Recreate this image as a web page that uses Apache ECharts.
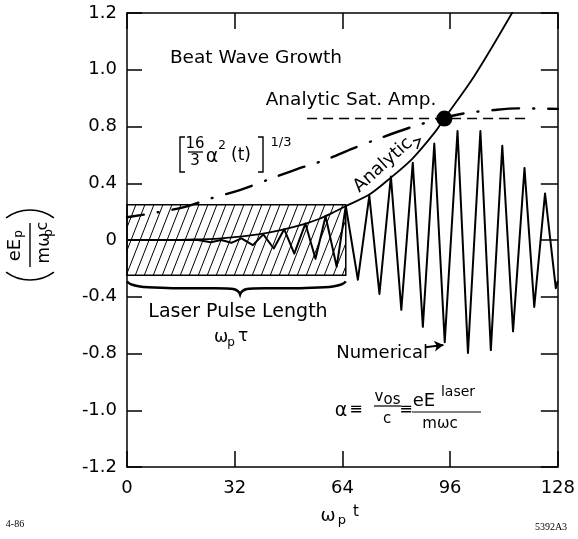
<!DOCTYPE html>
<html>
<head>
<meta charset="utf-8">
<script src="https://cdn.jsdelivr.net/npm/echarts@6/dist/echarts.min.js"></script>
<style>
  html, body { margin: 0; padding: 0; background: #fff; }
  #chart { width: 578px; height: 539px; }
</style>
</head>
<body>
<div id="chart"></div>
<script>
// The figure's y ticks are evenly spaced but labelled unevenly,
// so y values below are in tick steps (-4 .. 4) and labels are mapped.
const yTickLabels = ['-1.2', '-1.0', '-0.8', '-0.4', '0', '0.4', '0.8', '1.0', '1.2'];
const xTicks = [0, 32, 64, 96, 128];

// solid analytic growth curve
const analytic = [
  [0, 0], [12, 0], [20, 0.01], [26, 0.02], [32, 0.05], [39, 0.1], [46, 0.18],
  [52.6, 0.28], [57, 0.37], [60.4, 0.46], [65.1, 0.6], [72, 0.8], [78.4, 1.1],
  [84.9, 1.44], [91.5, 1.9], [94.3, 2.14], [103.2, 2.89], [114.4, 4.0], [116, 4.2]
];

// numerical result (peaks and troughs)
const numerical = [
  [0, 0], [21, 0], [24.9, -0.04], [28, 0.0], [31, -0.05], [34, 0.03], [37.4, -0.09],
  [40.5, 0.1], [43.6, -0.15], [46.7, 0.19], [49.7, -0.24], [53, 0.29], [56, -0.33],
  [59, 0.42], [62.3, -0.47], [65, 0.6], [68.6, -0.7], [72, 0.78], [75, -0.95],
  [78.4, 1.12], [81.5, -1.23], [84.9, 1.36], [87.9, -1.53], [91.3, 1.7], [94.4, -1.8],
  [98.2, 1.92], [101.3, -1.99], [105, 1.92], [108.1, -1.94], [111.5, 1.66],
  [114.7, -1.61], [118.1, 1.27], [121, -1.18], [124.2, 0.82], [127.4, -0.85], [128, -0.72]
];

// [16/3 a^2(t)]^(1/3) dash-dot curve
const cubeRoot = [
  [0, 0.4], [9.3, 0.49], [17, 0.58], [25.3, 0.74], [33.5, 0.88], [41.8, 1.06],
  [50.5, 1.25], [58.9, 1.41], [67, 1.61], [75.4, 1.8], [84, 1.98], [92, 2.12],
  [100, 2.23], [109, 2.29], [116, 2.32], [128, 2.31]
];

// analytic saturation amplitude
const satAmp = 2.14;
const satSpan = [53.5, 118.7];
const satPoint = [[94.3, 2.14]];

// laser pulse box and brace
const pulseBox = [[0, -0.62], [65, 0.62]];
const braceSpan = [0, 65];
const braceTip = 33.6;
const braceLevels = [-0.73, -0.85, -0.96];

// arrow from "Numerical" label
const numArrow = [[88.6, -1.89], [94, -1.85]];

const FONT = 'DejaVu Sans';

// diagonal hatching tile
const hatch = document.createElement('canvas');
hatch.width = 9;
hatch.height = 23;
(function () {
  const ctx = hatch.getContext('2d');
  ctx.strokeStyle = '#000';
  ctx.lineWidth = 1;
  ctx.beginPath();
  for (const dx of [-9, 0, 9]) {
    for (const dy of [-23, 0, 23]) {
      ctx.moveTo(dx, 23 + dy);
      ctx.lineTo(9 + dx, dy);
    }
  }
  ctx.stroke();
})();

function txt(x, y, s, size, style) {
  return {
    type: 'text', x: x, y: y, silent: true,
    style: Object.assign({
      text: s, fontSize: size, fontFamily: FONT, fill: '#000',
      align: 'center', verticalAlign: 'middle',
      textAlign: 'center', textVerticalAlign: 'middle'
    }, style || {})
  };
}
function seg(x1, y1, x2, y2, w) {
  return { type: 'line', silent: true, shape: { x1, y1, x2, y2 }, style: { stroke: '#000', lineWidth: w || 1.3 } };
}
function poly(points, w) {
  return { type: 'polyline', silent: true, shape: { points }, style: { stroke: '#000', fill: 'none', lineWidth: w || 1.3 } };
}

const chart = echarts.init(document.getElementById('chart'));

const tickStyle = { show: true, inside: true, length: 16, lineStyle: { color: '#000', width: 1.5 } };
const lineAxis = { show: true, onZero: false, lineStyle: { color: '#000', width: 1.5 } };

const analyticLabel = txt(383, 165, 'Analytic', 18);
analyticLabel.rotation = 42 * Math.PI / 180;

const option = {
  animation: false,
  backgroundColor: '#fff',
  grid: { left: 127, right: 13, top: 13, bottom: 72, show: false },
  xAxis: [
    {
      type: 'value', min: 0, max: 128, interval: 32, position: 'bottom',
      axisLine: lineAxis, axisTick: tickStyle, splitLine: { show: false },
      axisLabel: { color: '#000', fontSize: 18, fontFamily: FONT, margin: 12 }
    },
    {
      type: 'value', min: 0, max: 128, interval: 32, position: 'top',
      axisLine: lineAxis, axisTick: tickStyle, splitLine: { show: false },
      axisLabel: { show: false }
    }
  ],
  yAxis: [
    {
      type: 'value', min: -4, max: 4, interval: 1, position: 'left',
      axisLine: lineAxis, axisTick: Object.assign({}, tickStyle, { length: 15 }),
      splitLine: { show: false },
      axisLabel: {
        color: '#000', fontSize: 18, fontFamily: FONT, margin: 10,
        formatter: v => yTickLabels[Math.round(v) + 4]
      }
    },
    {
      type: 'value', min: -4, max: 4, interval: 1, position: 'right',
      axisLine: lineAxis, axisTick: Object.assign({}, tickStyle, { length: 17 }),
      splitLine: { show: false }, axisLabel: { show: false }
    }
  ],
  series: [
    {
      name: 'pulse', type: 'line', data: [], z: 1, silent: true,
      markArea: {
        silent: true,
        itemStyle: { color: { image: hatch, repeat: 'repeat' }, borderColor: '#000', borderWidth: 1.5, opacity: 1 },
        data: [[{ coord: pulseBox[0] }, { coord: pulseBox[1] }]]
      }
    },
    {
      name: 'Analytic', type: 'line', data: analytic, smooth: 0.3, showSymbol: false, z: 3,
      lineStyle: { color: '#000', width: 1.8 }
    },
    {
      name: 'Numerical', type: 'line', data: numerical, showSymbol: false, z: 3,
      lineStyle: { color: '#000', width: 2, join: 'round' },
      markLine: {
        silent: true, symbol: ['none', 'arrow'], symbolSize: [8, 9],
        label: { show: false },
        lineStyle: { color: '#000', width: 1.8, type: 'solid' },
        data: [[{ coord: numArrow[0] }, { coord: numArrow[1] }]]
      }
    },
    {
      name: 'cube root', type: 'line', data: cubeRoot, smooth: 0.3, showSymbol: false, z: 2,
      lineStyle: { color: '#000', width: 2.4, type: [27, 14, 1, 14], dashOffset: 10, cap: 'round' }
    },
    {
      name: 'Sat. Amp.', type: 'line', data: [[satSpan[0], satAmp], [satSpan[1], satAmp]],
      showSymbol: false, z: 2,
      lineStyle: { color: '#000', width: 1.6, type: [10, 6] }
    },
    {
      name: 'sat point', type: 'scatter', data: satPoint, symbolSize: 16, z: 4,
      itemStyle: { color: '#000', opacity: 1 }
    },
    {
      name: 'brace', type: 'custom', data: [[0, 0]], clip: false, z: 3, silent: true,
      renderItem: function (params, api) {
        const a = api.coord([braceSpan[0], braceLevels[0]]);
        const b = api.coord([braceSpan[1], braceLevels[0]]);
        const yb = api.coord([0, braceLevels[1]])[1];
        const yt = api.coord([0, braceLevels[2]])[1];
        const xm = api.coord([braceTip, 0])[0];
        const x0 = a[0], x1 = b[0], y0 = a[1];
        const d = 'M' + x0 + ',' + y0 +
          ' C' + (x0 + 4) + ',' + yb + ' ' + (x0 + 30) + ',' + (yb - 1) + ' ' + (x0 + 45) + ',' + yb +
          ' L' + (xm - 25) + ',' + yb +
          ' C' + (xm - 8) + ',' + yb + ' ' + (xm - 2) + ',' + yb + ' ' + xm + ',' + yt +
          ' C' + (xm + 2) + ',' + yb + ' ' + (xm + 8) + ',' + yb + ' ' + (xm + 25) + ',' + yb +
          ' L' + (x1 - 45) + ',' + yb +
          ' C' + (x1 - 30) + ',' + (yb - 1) + ' ' + (x1 - 4) + ',' + yb + ' ' + x1 + ',' + y0;
        return { type: 'path', shape: { pathData: d }, style: { stroke: '#000', fill: 'none', lineWidth: 2.5 } };
      }
    }
  ],
  graphic: [
    txt(256, 58, 'Beat Wave Growth', 18.5),
    txt(351, 100, 'Analytic Sat. Amp.', 18.5),
    // [16/3 a^2(t)]^(1/3)
    poly([[185, 137], [180, 137], [180, 172], [185, 172]], 1.4),
    txt(195, 144, '16', 15),
    seg(188, 152, 203, 152, 1.3),
    txt(195, 161, '3', 15),
    txt(212, 157, 'α', 19),
    txt(222, 146, '2', 12),
    txt(241, 156, '(t)', 17),
    poly([[258, 137], [263, 137], [263, 172], [258, 172]], 1.4),
    txt(281, 143, '1/3', 13),
    // label along the analytic curve
    analyticLabel,
    poly([[413, 141], [420, 139], [417, 149]], 1.5),
    // pulse length
    txt(238, 312, 'Laser Pulse Length', 19),
    txt(221, 338, 'ω', 17),
    txt(231, 343, 'p', 12),
    txt(243, 337, 'τ', 17),
    // numerical
    txt(428, 353, 'Numerical', 18, { align: 'right', textAlign: 'right' }),
    // a = vos/c = eE/mwc
    txt(341, 411, 'α', 19),
    txt(356, 410, '≡', 16),
    txt(379, 397, 'v', 15),
    txt(392, 400, 'os', 15),
    seg(374, 406, 401, 406, 1.2),
    txt(387, 419, 'c', 15),
    txt(406, 410, '≡', 16),
    txt(424, 401, 'eE', 18),
    txt(458, 392, 'laser', 14),
    seg(412, 412, 481, 412, 1.2),
    txt(440, 424, 'mωc', 15),
    // x axis name
    txt(328, 516, 'ω', 18),
    txt(342, 521, 'p', 13),
    txt(356, 512, 't', 15),
    // y axis name (rotated)
    {
      type: 'group', x: 30, y: 245, rotation: Math.PI / 2, silent: true,
      children: [
        { type: 'arc', shape: { cx: 5, cy: 0, r: 40, startAngle: Math.PI - 0.64, endAngle: Math.PI + 0.64 }, style: { stroke: '#000', fill: 'none', lineWidth: 1.6 } },
        { type: 'arc', shape: { cx: -5, cy: 0, r: 40, startAngle: -0.64, endAngle: 0.64 }, style: { stroke: '#000', fill: 'none', lineWidth: 1.6 } },
        txt(-5, -15, 'eE', 18),
        txt(11, -11, 'p', 12),
        seg(-22, 0, 22, 0, 1.4),
        txt(-3, 15, 'mω', 17),
        txt(12, 19, 'p', 12),
        txt(19, 13, 'c', 16)
      ]
    },
    // figure codes
    txt(15, 524, '4-86', 10, { fontFamily: 'Liberation Serif' }),
    txt(551, 527, '5392A3', 10, { fontFamily: 'Liberation Serif' })
  ]
};

chart.setOption(option);
</script>
</body>
</html>
